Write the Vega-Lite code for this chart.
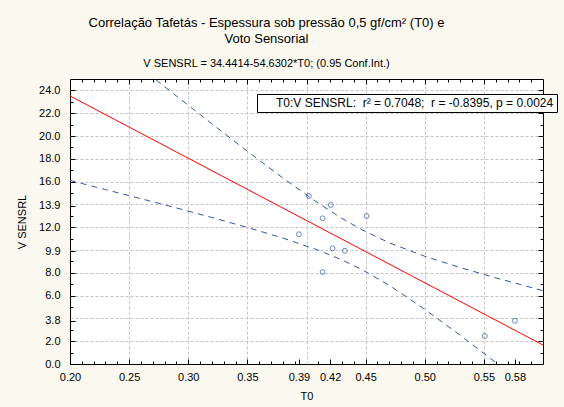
{
  "$schema": "https://vega.github.io/schema/vega-lite/v6.json",
  "width": 473,
  "height": 285,
  "autosize": {"type": "none"},
  "padding": {"left": 70, "top": 79, "right": 21, "bottom": 43},
  "background": "#fbf8ef",
  "config": {
    "view": {"fill": "white", "stroke": "black", "strokeWidth": 1},
    "font": "Liberation Sans",
    "axis": {
      "labelFont": "Liberation Sans", "labelFontSize": 11, "labelColor": "black",
      "titleFont": "Liberation Sans", "titleFontSize": 11, "titleFontWeight": "normal", "titleColor": "black",
      "domain": false, "tickColor": "black", "tickWidth": 1
    }
  },
  "title": {
    "text": ["Correlação Tafetás - Espessura sob pressão 0,5 gf/cm² (T0) e", "Voto Sensorial"],
    "subtitle": "V SENSRL = 34.4414-54.6302*T0; (0.95 Conf.Int.)",
    "font": "Liberation Sans", "fontSize": 13, "fontWeight": "normal", "color": "black", "lineHeight": 16,
    "subtitleFont": "Liberation Sans", "subtitleFontSize": 11, "subtitleColor": "black", "subtitlePadding": 12,
    "anchor": "middle", "frame": "group", "offset": 10, "dx": -40
  },
  "datasets": {
    "pts": [
      {"T0": 0.402, "V": 14.74},
      {"T0": 0.4206, "V": 13.95},
      {"T0": 0.4136, "V": 12.78},
      {"T0": 0.4508, "V": 12.98},
      {"T0": 0.3936, "V": 11.38},
      {"T0": 0.422, "V": 10.15},
      {"T0": 0.4325, "V": 9.93},
      {"T0": 0.4136, "V": 8.07},
      {"T0": 0.5508, "V": 2.46},
      {"T0": 0.5762, "V": 3.8}
    ],
    "reg": [
      {"T0": 0.2, "V": 23.515},
      {"T0": 0.6, "V": 1.663}
    ],
    "ci": [
      {"T0": 0.2, "upper": 30.94, "lower": 16.1},
      {"T0": 0.23, "upper": 28.45, "lower": 15.3},
      {"T0": 0.26, "upper": 25.97, "lower": 14.5},
      {"T0": 0.29, "upper": 23.51, "lower": 13.69},
      {"T0": 0.32, "upper": 21.07, "lower": 12.85},
      {"T0": 0.35, "upper": 18.66, "lower": 11.98},
      {"T0": 0.38, "upper": 16.32, "lower": 11.05},
      {"T0": 0.41, "upper": 14.11, "lower": 9.98},
      {"T0": 0.43, "upper": 12.77, "lower": 9.13},
      {"T0": 0.4476, "upper": 11.74, "lower": 8.24},
      {"T0": 0.47, "upper": 10.63, "lower": 6.9},
      {"T0": 0.5, "upper": 9.45, "lower": 4.8},
      {"T0": 0.53, "upper": 8.46, "lower": 2.52},
      {"T0": 0.56, "upper": 7.56, "lower": 0.14},
      {"T0": 0.6, "upper": 6.43, "lower": -3.11}
    ]
  },
  "resolve": {"axis": {"x": "independent", "y": "independent"}},
  "layer": [
    {
      "data": {"name": "ci"},
      "mark": {"type": "line", "clip": true, "stroke": "#3553a8", "strokeWidth": 1, "strokeDash": [6, 5]},
      "encoding": {
        "x": {"field": "T0", "type": "quantitative", "scale": {"domain": [0.2, 0.6], "nice": false, "zero": false},
          "axis": {"orient": "bottom", "values": [0.21,0.22,0.23,0.24,0.26,0.27,0.28,0.29,0.31,0.32,0.33,0.34,0.36,0.37,0.38,0.39,0.41,0.42,0.43,0.44,0.46,0.47,0.48,0.49,0.51,0.52,0.53,0.54,0.56,0.57,0.58,0.59],
            "labels": false, "grid": false, "tickSize": -3, "title": null}},
        "y": {"field": "upper", "type": "quantitative", "scale": {"domain": [0, 25], "nice": false, "zero": false},
          "axis": {"orient": "left", "values": [1,3,5,7,9,11,13,15,17,19,21,23],
            "labels": false, "grid": false, "tickSize": -3, "title": null}}
      }
    },
    {
      "data": {"name": "ci"},
      "mark": {"type": "line", "clip": true, "stroke": "#3553a8", "strokeWidth": 1, "strokeDash": [6, 5]},
      "encoding": {
        "x": {"field": "T0", "type": "quantitative", "scale": {"domain": [0.2, 0.6], "nice": false, "zero": false},
          "axis": {"orient": "top", "values": [0.21,0.22,0.23,0.24,0.26,0.27,0.28,0.29,0.31,0.32,0.33,0.34,0.36,0.37,0.38,0.39,0.41,0.42,0.43,0.44,0.46,0.47,0.48,0.49,0.51,0.52,0.53,0.54,0.56,0.57,0.58,0.59],
            "labels": false, "grid": false, "tickSize": -3, "title": null}},
        "y": {"field": "lower", "type": "quantitative", "scale": {"domain": [0, 25], "nice": false, "zero": false},
          "axis": {"orient": "right", "values": [1,3,5,7,9,11,13,15,17,19,21,23],
            "labels": false, "grid": false, "tickSize": -3, "title": null}}
      }
    },
    {
      "data": {"name": "reg"},
      "mark": {"type": "line", "clip": true, "strokeWidth": 1},
      "encoding": {
        "x": {"field": "T0", "type": "quantitative", "scale": {"domain": [0.2, 0.6], "nice": false, "zero": false},
          "axis": {"orient": "top", "values": [0.25, 0.3, 0.35, 0.4, 0.45, 0.5, 0.55],
            "labels": false, "grid": true, "gridColor": "#c4c4c4", "gridDash": [3, 2], "tickSize": -5, "title": null}},
        "y": {"field": "V", "type": "quantitative", "scale": {"domain": [0, 25], "nice": false, "zero": false},
          "axis": {"orient": "right", "values": [2, 4, 6, 8, 10, 12, 14, 16, 18, 20, 22, 24],
            "labels": false, "grid": true, "gridColor": "#c4c4c4", "gridDash": [3, 2], "tickSize": -5, "title": null}},
        "color": {
          "datum": "T0:V SENSRL:\u00a0 r² = 0.7048;\u00a0 r = -0.8395, p = 0.0024",
          "type": "nominal",
          "scale": {"range": ["#ff0000"]},
          "legend": {
            "orient": "none", "legendX": 187, "legendY": 15, "title": null,
            "symbolSize": 0, "symbolOpacity": 0, "symbolStrokeWidth": 0, "labelOffset": 4, "labelLimit": 0,
            "labelFont": "Liberation Sans", "labelFontSize": 12, "labelColor": "black",
            "strokeColor": "black", "fillColor": "white", "padding": 3
          }
        }
      }
    },
    {
      "data": {"name": "pts"},
      "mark": {"type": "point", "shape": "circle", "filled": false, "size": 24, "stroke": "#3050a8", "strokeWidth": 1},
      "encoding": {
        "x": {"field": "T0", "type": "quantitative", "scale": {"domain": [0.2, 0.6], "nice": false, "zero": false},
          "axis": {"orient": "bottom", "values": [0.2, 0.25, 0.3, 0.35, 0.3936, 0.42, 0.45, 0.5, 0.55, 0.5762],
            "format": ".2f", "grid": false, "tickSize": -5, "labelPadding": 12, "labelOverlap": false, "labelFlush": false,
            "title": "T0", "titlePadding": 8}},
        "y": {"field": "V", "type": "quantitative", "scale": {"domain": [0, 25], "nice": false, "zero": false},
          "axis": {"orient": "left", "values": [0, 2, 3.8, 6, 8, 9.9, 12, 13.9, 16, 18, 20, 22, 24],
            "format": ".1f", "grid": false, "tickSize": -5, "labelPadding": 15, "labelOverlap": false,
            "title": "V SENSRL", "titlePadding": 11}}
      }
    }
  ]
}
